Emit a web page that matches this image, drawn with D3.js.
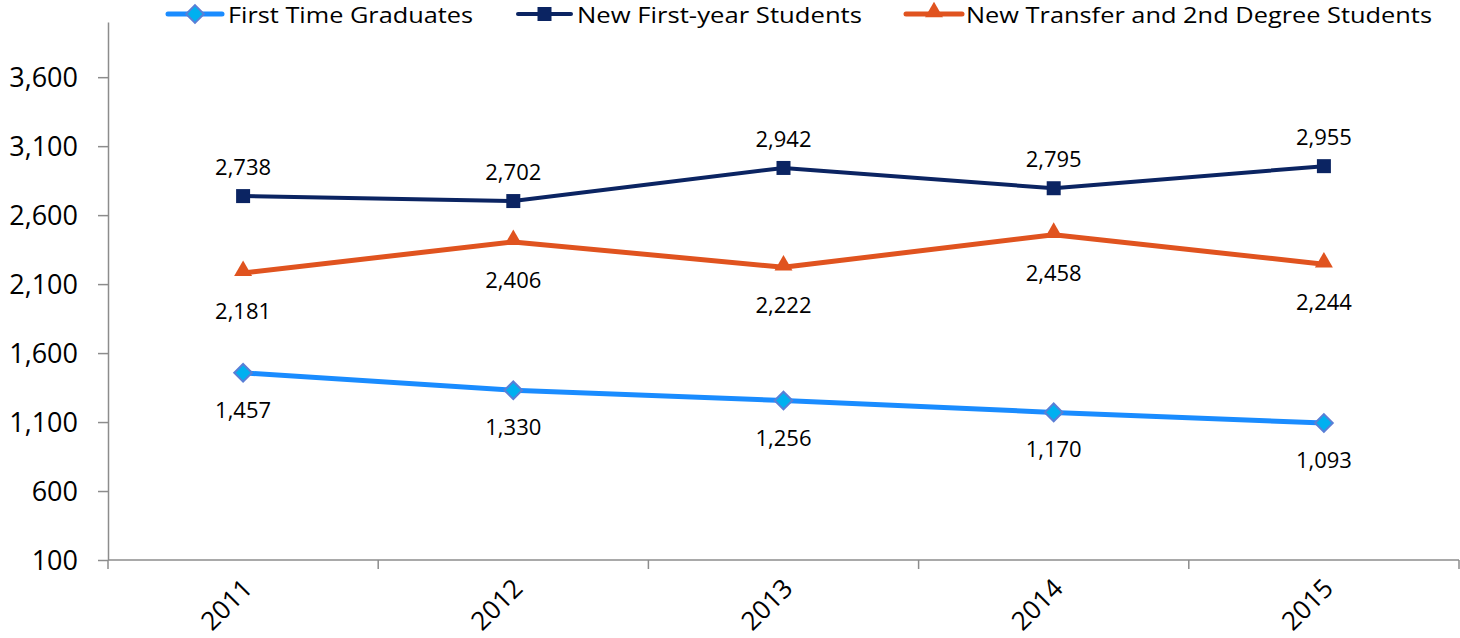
<!DOCTYPE html>
<html>
<head>
  <meta charset='utf-8'>
  <script src="https://d3js.org/d3.v7.min.js"></script>
  <style>
    body { margin: 0; background: #fff; }
    text { font-family: 'Open Sans', sans-serif; fill: #000; }
  </style>
</head>
<body>
  <script type='text/javascript'>
    // Chart data
    var years = ['2011', '2012', '2013', '2014', '2015'];
    var firstTimeGraduates = [1457, 1330, 1256, 1170, 1093];
    var newFirstYear = [2738, 2702, 2942, 2795, 2955];
    var newTransfer = [2181, 2406, 2222, 2458, 2244];
    var yTicks = [100, 600, 1100, 1600, 2100, 2600, 3100, 3600];

    var series = [
      {name: 'First Time Graduates', values: firstTimeGraduates, color: '#1a8cff', width: 5,
       marker: 'diamond', fill: '#00b0f0', stroke: '#5a7fd6', labelDy: 45},
      {name: 'New First-year Students', values: newFirstYear, color: '#0b2462', width: 4,
       marker: 'square', fill: '#0b2462', stroke: '#0b2462', labelDy: -21},
      {name: 'New Transfer and 2nd Degree Students', values: newTransfer, color: '#e0531f', width: 5,
       marker: 'triangle', fill: '#e0531f', stroke: '#e0531f', labelDy: 46}
    ];

    var W = 1460, H = 638;
    var plotLeft = 108, plotRight = 1459, plotTop = 22, plotBottom = 560;

    var svg = d3.select('body')
      .append('svg')
      .attr('width', W)
      .attr('height', H);

    var x = d3.scaleBand().domain(years).range([plotLeft, plotRight]).paddingInner(0).paddingOuter(0);
    var y = d3.scaleLinear().domain([100, 4000]).range([plotBottom, plotTop]);

    // y axis
    var yAxis = svg.append('g')
      .attr('transform', 'translate(' + plotLeft + ',0)')
      .call(d3.axisLeft(y).tickValues(yTicks).tickSize(10).tickPadding(20).tickFormat(d3.format(',')).tickSizeOuter(0));
    yAxis.select('.domain').attr('stroke', '#8c8c8c').attr('stroke-width', 1.5);
    yAxis.selectAll('.tick line').attr('stroke', '#8c8c8c').attr('stroke-width', 1.5);
    yAxis.selectAll('.tick text').style('font-size', '27px').attr('dy', '0.36em');

    // x axis (ticks at category boundaries)
    var xAxisG = svg.append('g').attr('transform', 'translate(0,' + plotBottom + ')');
    xAxisG.append('line')
      .attr('x1', plotLeft).attr('x2', plotRight)
      .attr('stroke', '#8c8c8c').attr('stroke-width', 1.5);
    var bounds = years.map(function(d) { return x(d); }).concat([plotRight]);
    xAxisG.selectAll('.xtick')
      .data(bounds)
      .enter().append('line')
      .attr('x1', function(d) { return d; })
      .attr('x2', function(d) { return d; })
      .attr('y1', 0).attr('y2', 9)
      .attr('stroke', '#8c8c8c').attr('stroke-width', 1.5);
    xAxisG.selectAll('.xlabel')
      .data(years)
      .enter().append('text')
      .attr('transform', function(d) {
        return 'translate(' + (x(d) + x.bandwidth() / 2 - 2) + ',17) rotate(-45)';
      })
      .attr('text-anchor', 'end')
      .attr('dy', '0.7em')
      .style('font-size', '26px')
      .text(function(d) { return d; });

    // marker shapes
    function markerPath(type) {
      if (type === 'diamond') return d3.symbol().type(d3.symbolDiamond2).size(200)();
      if (type === 'square') return d3.symbol().type(d3.symbolSquare).size(196)();
      return d3.symbol().type(d3.symbolTriangle2).size(230)();
    }

    var line = d3.line()
      .x(function(d, i) { return x(years[i]) + x.bandwidth() / 2; })
      .y(function(d) { return y(d); });

    series.forEach(function(s) {
      var g = svg.append('g');
      g.append('path')
        .attr('d', line(s.values))
        .attr('fill', 'none')
        .attr('stroke', s.color)
        .attr('stroke-width', s.width)
        .attr('stroke-linejoin', 'round');
      g.selectAll('.mk')
        .data(s.values)
        .enter().append('path')
        .attr('d', markerPath(s.marker))
        .attr('transform', function(d, i) {
          var dy = s.marker === 'triangle' ? -2 : 0;
          return 'translate(' + (x(years[i]) + x.bandwidth() / 2) + ',' + (y(d) + dy) + ')';
        })
        .attr('fill', s.fill)
        .attr('stroke', s.stroke)
        .attr('stroke-width', s.marker === 'diamond' ? 2 : 0);
      g.selectAll('.lbl')
        .data(s.values)
        .enter().append('text')
        .attr('x', function(d, i) { return x(years[i]) + x.bandwidth() / 2; })
        .attr('y', function(d) { return y(d) + s.labelDy; })
        .attr('text-anchor', 'middle')
        .style('font-size', '22px')
        .text(function(d) { return d3.format(',')(d); });
    });

    // legend
    var legendPos = [
      {x1: 168, x2: 222, tx: 228, tw: 245},
      {x1: 518, x2: 571, tx: 577, tw: 285},
      {x1: 906, x2: 962, tx: 966, tw: 466}
    ];
    series.forEach(function(s, i) {
      var p = legendPos[i];
      var lg = svg.append('g');
      lg.append('line')
        .attr('x1', p.x1).attr('x2', p.x2)
        .attr('y1', 14).attr('y2', 14)
        .attr('stroke', s.color).attr('stroke-width', s.width)
        .attr('stroke-linecap', 'round');
      lg.append('path')
        .attr('d', markerPath(s.marker))
        .attr('transform', 'translate(' + ((p.x1 + p.x2) / 2) + ',' + (s.marker === 'triangle' ? 12 : 14) + ')')
        .attr('fill', s.fill)
        .attr('stroke', s.stroke)
        .attr('stroke-width', s.marker === 'diamond' ? 2 : 0);
      lg.append('text')
        .attr('x', p.tx).attr('y', 23)
        .attr('textLength', p.tw)
        .attr('lengthAdjust', 'spacingAndGlyphs')
        .style('font-size', '21px')
        .text(s.name);
    });
  </script>
</body>
</html>
